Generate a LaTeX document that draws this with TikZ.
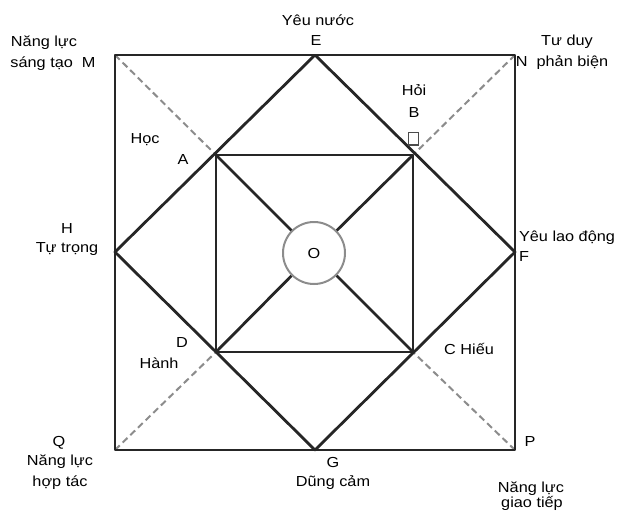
\documentclass[tikz,border=0pt]{standalone}
\usepackage{fontspec}
\setmainfont{Liberation Sans}[FakeStretch=1.12]
\begin{document}
\begin{tikzpicture}[x=0.75pt, y=-0.75pt, font=\fontsize{10.9}{13}\selectfont,
  edge/.style={draw=black!85, line width=2.1pt, line join=round},
  guide/.style={draw=black!45, line width=1.5pt, dash pattern=on 5pt off 3pt},
  lbl/.style={anchor=base, inner sep=0pt}]
\useasboundingbox (0,0) rectangle (628,515);
% corners, side midpoints, inner square
\foreach \n/\x/\y in {M/115/55, N/515/55, P/515/450, Q/115/450,
  E/315/55, F/515/252, G/315/450, H/115/252,
  A/216/155, B/413/155, C/413/352, D/216/352}
  \coordinate (\n) at (\x,\y);
\node[circle, draw=black!45, line width=1.5pt, minimum size=46.5pt, inner sep=0pt] (O) at (314,253) {O};
% dashed diagonals
\foreach \s/\t in {M/A, N/B, P/C, Q/D}
  \draw[guide] (\s) -- (\t);
\draw[edge] (M) -- (N) -- (P) -- (Q) -- cycle;
\draw[edge] (E) -- (F) -- (G) -- (H) -- cycle;
\draw[edge] (A) -- (B) -- (C) -- (D) -- cycle;
\foreach \s in {A, B, C, D}
  \draw[edge] (\s) -- (O);
\draw[black!70, line width=0.8pt] (408.5,132.5) rectangle (418.5,145) coordinate (boxB);
% labels: name, x, baseline, text
\foreach \i/\x/\y/\t in {
  1/44/46/Năng lực,
  2/53/67/sáng tạo\ \ M,
  3/318/25/Yêu nước,
  4/316/45/E,
  5/567/45/Tư duy,
  6/562/66/N\ \ phản biện,
  7/414/95/Hỏi,
  8/414/117/B,
  9/145/143/Học,
  10/183/164/A,
  11/67/233/H,
  12/67/252/Tự trọng,
  13/567/241/Yêu lao động,
  14/524/261/F,
  15/182/347/D,
  16/159/368/Hành,
  17/469/354/C Hiếu,
  18/59/446/Q,
  19/60/465/Năng lực,
  20/60/486/hợp tác,
  21/530/446/P,
  22/333/467/G,
  23/333/486/Dũng cảm,
  24/531/492/Năng lực,
  25/532/507/giao tiếp
} {
  \node[lbl] (lbl\i) at (\x,\y) {\t};
}
\end{tikzpicture}
\end{document}
